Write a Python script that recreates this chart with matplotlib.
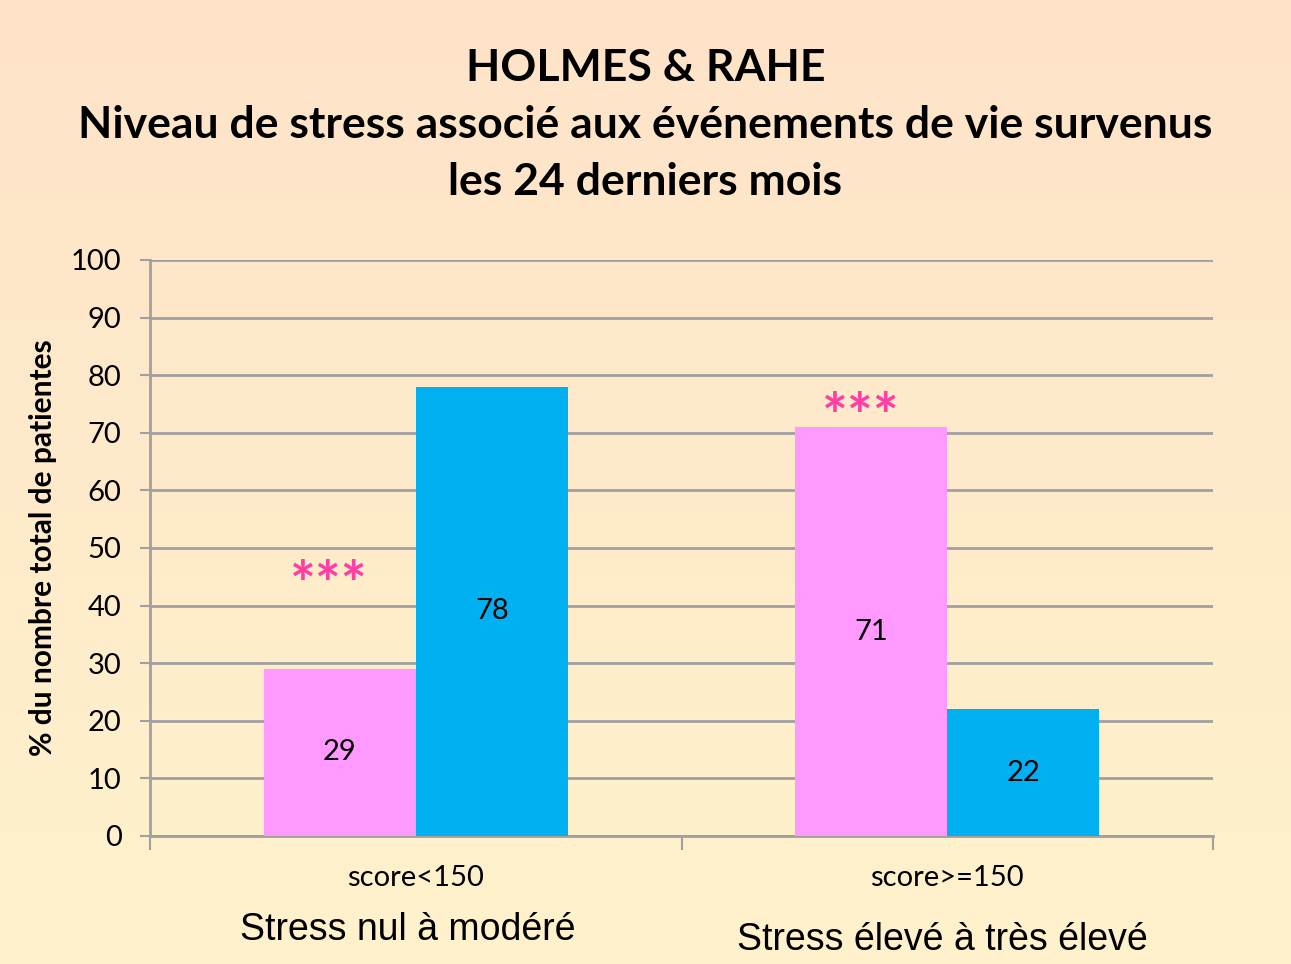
import numpy as np
import matplotlib.pyplot as plt
from matplotlib.colors import LinearSegmentedColormap

# Data
scores = ['score<150', 'score>=150']
groups = ['Stress nul à modéré', 'Stress élevé à très élevé']
pink_vals = [29, 71]
blue_vals = [78, 22]
stars = ['***', '***']
star_y = [43, 72.2]

title = "HOLMES & RAHE\nNiveau de stress associé aux événements de vie survenus\nles 24 derniers mois"
ylabel = "% du nombre total de patientes"

plt.rcParams['font.family'] = ['Lato', 'DejaVu Sans']

fig = plt.figure(figsize=(12.91, 9.64), dpi=100)

# background gradient (peach top -> pale yellow bottom)
bg = fig.add_axes([0, 0, 1, 1], zorder=-10)
cmap = LinearSegmentedColormap.from_list('bg', ['#FEE3C9', '#FEF2CC'])
bg.imshow(np.linspace(0, 1, 256).reshape(-1, 1), aspect='auto', cmap=cmap,
          extent=[0, 1, 0, 1])
bg.axis('off')

ax = fig.add_axes([0.1162, 0.1328, 0.8234, 0.5975])
ax.set_facecolor('none')

x = np.arange(len(scores))
w = 0.286
ax.bar(x - w / 2, pink_vals, w, color='#FF99FF', zorder=3)
ax.bar(x + w / 2, blue_vals, w, color='#00B0F0', zorder=3)

for i in range(len(x)):
    ax.text(x[i] - w / 2, pink_vals[i] / 2, str(pink_vals[i]), ha='center', va='center',
            fontsize=21, zorder=4)
    ax.text(x[i] + w / 2, blue_vals[i] / 2, str(blue_vals[i]), ha='center', va='center',
            fontsize=21, zorder=4)
    ax.text(x[i] - w / 2 - 0.02, star_y[i], stars[i], ha='center', va='center',
            fontsize=44, color='#FF3FA4', fontweight='bold', zorder=4)

ax.set_xlim(-0.5, 1.5)
ax.set_ylim(0, 100)
ax.set_yticks(range(0, 101, 10))
ax.yaxis.grid(True, color='#A0A0A0', linewidth=2, zorder=0)
ax.tick_params(axis='y', labelsize=21, length=7, width=1.5, color='#A0A0A0', pad=13.5)

ax.set_xticks([-0.5, 0.5, 1.5])
ax.set_xticklabels([])
ax.tick_params(axis='x', length=10, width=1.5, color='#A0A0A0')
for i, s in enumerate(scores):
    ax.text(x[i], -7.3, s, ha='center', va='center', fontsize=21,
            transform=ax.transData)

for sp in ['top', 'right']:
    ax.spines[sp].set_visible(False)
for sp in ['left', 'bottom']:
    ax.spines[sp].set_color('#A0A0A0')
    ax.spines[sp].set_linewidth(2)

ax.set_ylabel(ylabel, fontsize=21.5, fontweight='bold', labelpad=10)

fig.text(0.316, 1 - 930 / 964, groups[0], ha='center', va='center', fontsize=27,
         family=['Liberation Sans Narrow', 'Liberation Sans'])
fig.text(0.730, 1 - 940 / 964, groups[1], ha='center', va='center', fontsize=27,
         family=['Liberation Sans Narrow', 'Liberation Sans'])

fig.text(0.5, 1 - 125 / 964, title, ha='center', va='center', fontsize=32,
         fontweight='bold', linespacing=1.53)

fig.savefig('out.png', dpi=100)
